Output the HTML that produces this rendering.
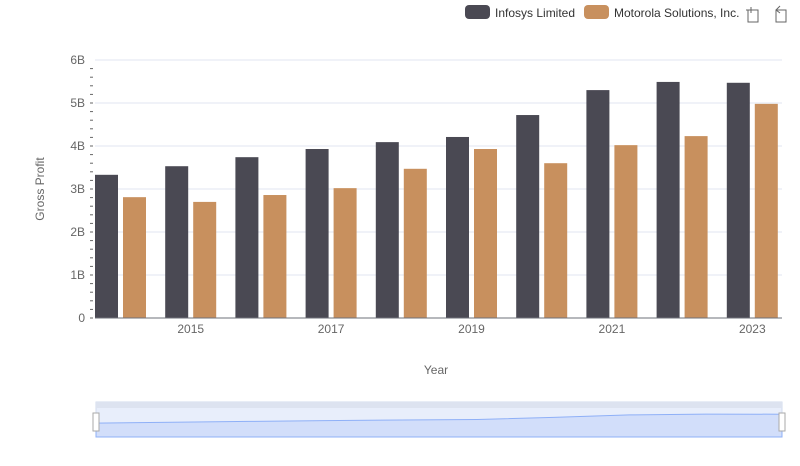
<!DOCTYPE html>
<html><head><meta charset="utf-8"><style>
body{margin:0;background:#fff;font-family:"Liberation Sans",sans-serif}
svg text{font-family:"Liberation Sans",sans-serif}
</style></head><body>
<svg width="800" height="461">
<g id="grid"></g>
<g id="bars"></g>
<g id="axes"></g>
<text x="44" y="189" transform="rotate(-90 44 189)" text-anchor="middle" font-size="12" fill="#666">Gross Profit</text>
<text x="436" y="374" text-anchor="middle" font-size="12" fill="#666">Year</text>
<g>
<g><rect x="465" y="5" width="25" height="14" rx="4" fill="#4a4953"/><text x="495" y="17" font-size="12" fill="#333">Infosys Limited</text></g>
<g><rect x="584" y="5" width="25" height="14" rx="4" fill="#c8905e"/><text x="614" y="17" font-size="12" fill="#333">Motorola Solutions, Inc.</text></g>
</g>
<g stroke="#666" fill="none"><path d="M748 10h10v12h-10z M751 7v6 M746 10h6"/></g>
<g stroke="#666" fill="none"><path d="M776 10h10v12h-10z M776 10l4-4 M776 10l4 3"/></g>
<g>
<rect x="96" y="402" width="686" height="35" fill="#e8eefb" stroke="#d2dbee"/>
<rect x="96" y="402" width="686" height="6" fill="#dde3f0"/>
<path id="dzarea" fill="#d2defa" stroke="#8fb0f7" stroke-width="1"/>
<rect x="93" y="413" width="6" height="18" fill="#fff" stroke="#aaa"/>
<rect x="779" y="413" width="6" height="18" fill="#fff" stroke="#aaa"/>
</g>
</svg>
<script>
const years=["2014","2015","2016","2017","2018","2019","2020","2021","2022","2023"];
const infosys=[3.33,3.53,3.74,3.93,4.09,4.21,4.72,5.30,5.49,5.47];
const motorola=[2.81,2.70,2.86,3.02,3.47,3.93,3.60,4.02,4.23,4.98];
const yTicks=["0","1B","2B","3B","4B","5B","6B"];
const NS="http://www.w3.org/2000/svg";
const y0=318,ppb=43,x0=95,band=70.2;
const ys=v=>y0-v*ppb;
const xs=i=>x0+band*i;
function mk(tag,a,p){const e=document.createElementNS(NS,tag);for(const k in a)e.setAttribute(k,a[k]);p.appendChild(e);return e;}
const grid=document.getElementById('grid'),bars=document.getElementById('bars'),axes=document.getElementById('axes');
yTicks.forEach((t,i)=>{
 const y=ys(i);
 if(i>0){const l=mk('line',{x1:95,x2:782,y1:y,y2:y,stroke:'#e0e6f1'},grid);}
 const tx=mk('text',{x:85,y:y+4,'text-anchor':'end','font-size':12,fill:'#666'},axes);tx.textContent=t;
 
});
for(let v=0;v<6;v+=0.2){const y=ys(v);mk('line',{x1:90,x2:93,y1:y,y2:y,stroke:'#666'},axes);}
mk('line',{x1:95,x2:782,y1:y0,y2:y0,stroke:'#6e7079'},axes);
years.forEach((yr,i)=>{
 const b1=mk('rect',{x:xs(i),y:ys(infosys[i]),width:23,height:infosys[i]*ppb,fill:'#4a4953'},bars);
 
 const b2=mk('rect',{x:xs(i)+28,y:ys(motorola[i]),width:23,height:motorola[i]*ppb,fill:'#c8905e'},bars);
 
 if(i%2==1){const t=mk('text',{x:xs(i)+25.5,y:333,'text-anchor':'middle','font-size':12,fill:'#666'},axes);t.textContent=yr;
 }
});
const mx=6;let d='M96 437';
infosys.forEach((v,i)=>{d+=' L'+(96+686*i/9)+' '+(437-v/mx*25);});
d+=' L782 437Z';document.getElementById('dzarea').setAttribute('d',d);
</script>
</body></html>
